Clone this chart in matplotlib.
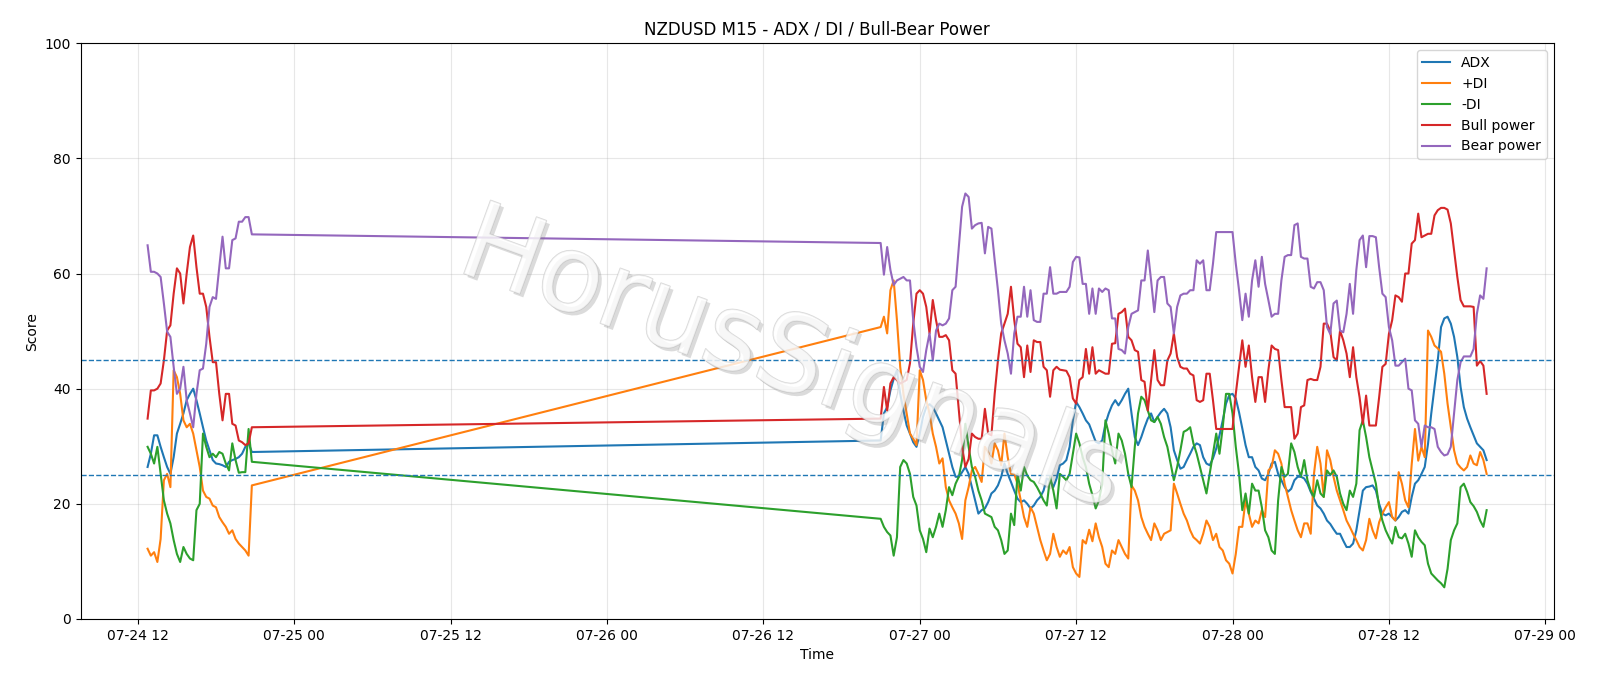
import pandas as pd
import matplotlib
matplotlib.use("Agg")
import matplotlib.pyplot as plt
import matplotlib.dates as mdates
import matplotlib.patheffects as pe

# friday session (07-24 12:45 -> 20:45, M15)
adx_fri = [26.4, 28.7, 31.9, 31.9, 29.9, 28.1, 26.4, 25.2, 28.1, 32.2,
           33.9, 35.7, 38.0, 39.1, 40.0, 38.0, 35.7, 33.3, 31.0, 29.3,
           27.6, 27.0, 26.9, 26.7, 26.4, 27.3, 27.6, 27.8, 28.1, 28.7,
           29.9, 30.5, 29.0]
pdi_fri = [12.2, 11.0, 11.6, 9.9, 13.9, 24.1, 25.2, 22.9, 43.2, 42.0,
           39.1, 34.5, 33.3, 33.9, 32.2, 29.3, 26.4, 22.3, 21.2, 20.9,
           19.7, 19.4, 17.7, 16.8, 16.0, 14.8, 15.4, 13.9, 13.1, 12.5,
           11.9, 11.0, 23.2]
mdi_fri = [29.9, 28.7, 27.0, 29.9, 25.2, 20.6, 18.3, 16.6, 13.7, 11.3,
           9.9, 12.5, 11.3, 10.5, 10.2, 18.9, 20.0, 32.2, 29.9, 28.1,
           28.7, 28.1, 29.0, 28.7, 27.0, 25.8, 30.5, 27.6, 25.4, 25.5,
           25.5, 33.0, 27.3]
bull_fri = [34.8, 39.7, 39.7, 40.0, 40.9, 44.9, 50.1, 51.0, 56.5, 60.9,
            60.0, 54.8, 60.0, 64.6, 66.6, 61.1, 56.5, 56.5, 54.2, 49.0,
            44.6, 44.6, 39.1, 34.5, 39.1, 39.1, 33.9, 33.6, 31.0, 30.7,
            30.2, 30.5, 33.3]
bear_fri = [64.9, 60.3, 60.3, 60.0, 59.4, 54.8, 49.9, 49.0, 43.8, 39.1,
            40.0, 43.8, 38.0, 35.7, 33.3, 39.1, 43.2, 43.5, 47.8, 54.2,
            55.9, 55.6, 61.1, 66.4, 60.9, 60.9, 65.8, 66.1, 69.0, 69.0,
            69.8, 69.8, 66.8]

# after the weekend (07-26 21:00 -> 07-28 19:30, M15)
adx_week = [31.0, 35.7, 36.8, 39.7, 41.7, 43.2, 39.1, 36.2, 33.6, 32.2,
            30.7, 29.9, 32.2, 35.1, 36.8, 37.3, 36.8, 35.7, 34.5, 33.3,
            31.0, 28.7, 26.4, 24.7, 24.7, 25.5, 26.4, 25.2, 22.9, 20.6,
            18.3, 18.9, 19.2, 20.3, 21.8, 22.3, 23.2, 24.7, 27.0, 25.2,
            23.8, 22.3, 20.9, 20.3, 20.6, 20.0, 19.2, 19.7, 20.6, 21.2,
            22.3, 24.4, 24.1, 22.9, 24.4, 26.7, 27.0, 27.6, 29.9, 34.5,
            37.7, 36.8, 35.7, 34.5, 33.8, 32.3, 30.8, 30.5, 31.0, 33.9,
            35.7, 37.1, 38.0, 37.1, 38.0, 39.1, 40.0, 35.7, 31.6, 30.2,
            31.6, 33.3, 34.8, 35.7, 34.2, 35.1, 35.9, 36.5, 35.7, 33.3,
            29.3, 27.6, 26.1, 26.4, 27.6, 28.7, 29.9, 30.5, 30.2, 28.1,
            27.0, 26.7, 27.9, 29.6, 31.9, 34.5, 37.4, 38.9, 39.1, 38.3,
            35.9, 33.1, 30.2, 28.1, 28.1, 26.4, 25.8, 24.4, 24.1, 25.2,
            27.0, 27.3, 25.2, 24.1, 22.9, 22.1, 22.6, 24.1, 24.7, 24.7,
            24.4, 23.5, 22.1, 20.9, 19.7, 19.2, 18.3, 17.1, 16.5, 15.6,
            14.8, 14.8, 13.6, 12.5, 12.5, 13.1, 15.4, 18.9, 22.3, 22.9,
            23.0, 23.2, 22.3, 20.0, 18.3, 18.0, 18.3, 17.7, 17.1, 17.7,
            18.6, 18.9, 18.3, 21.2, 23.5, 24.1, 25.2, 26.4, 30.4, 35.7,
            40.3, 44.9, 50.7, 52.2, 52.5, 51.3, 49.0, 45.5, 40.3, 36.8,
            34.8, 33.3, 31.9, 30.5, 29.9, 29.3, 27.6]
pdi_week = [50.7, 52.5, 49.6, 57.1, 58.8, 51.9, 43.8, 39.1, 35.7, 32.2,
            31.3, 30.2, 43.2, 41.5, 38.0, 35.7, 32.2, 29.9, 27.0, 27.9,
            22.9, 20.6, 19.4, 18.3, 16.6, 13.9, 20.6, 22.9, 25.8, 26.4,
            25.2, 23.8, 29.9, 29.0, 27.0, 30.5, 29.3, 26.7, 32.2, 28.1,
            25.2, 25.2, 23.5, 20.6, 17.7, 16.0, 19.4, 18.3, 16.0, 13.7,
            11.9, 10.2, 11.3, 14.8, 12.5, 10.8, 11.9, 11.3, 12.5, 9.0,
            7.9, 7.3, 13.7, 13.1, 15.5, 13.5, 16.6, 14.2, 12.5, 9.6,
            9.0, 11.9, 11.3, 13.7, 12.5, 11.3, 10.5, 23.2, 22.3, 20.6,
            17.7, 16.0, 14.8, 13.7, 16.6, 15.4, 13.7, 14.8, 15.1, 15.4,
            23.5, 21.8, 20.0, 18.3, 17.1, 15.4, 14.2, 13.7, 13.1, 14.8,
            17.1, 16.0, 13.7, 14.8, 12.5, 11.9, 10.2, 9.6, 7.9, 11.3,
            16.0, 16.0, 20.6, 18.3, 16.0, 17.1, 16.6, 18.9, 17.7, 25.8,
            26.4, 29.3, 28.7, 27.0, 23.5, 21.2, 18.9, 17.1, 15.4, 14.2,
            16.6, 16.6, 14.8, 25.2, 29.9, 27.0, 21.2, 29.3, 27.6, 24.7,
            22.3, 20.6, 18.9, 17.1, 16.0, 14.8, 13.7, 12.5, 11.9, 13.7,
            17.4, 15.4, 14.0, 16.8, 18.3, 19.4, 20.3, 17.7, 17.1, 25.5,
            23.5, 20.6, 19.4, 26.9, 33.0, 27.5, 29.9, 28.1, 50.1, 49.0,
            47.5, 47.0, 46.4, 42.6, 37.4, 33.3, 29.3, 27.0, 26.3, 25.8,
            26.4, 28.4, 27.0, 26.7, 29.0, 27.6, 25.2]
mdi_week = [17.4, 16.0, 15.1, 14.5, 11.0, 14.2, 26.4, 27.6, 27.0, 25.2,
            21.2, 19.7, 15.4, 13.9, 11.6, 15.7, 14.2, 16.0, 18.3, 16.0,
            18.9, 22.9, 21.5, 23.5, 24.7, 27.6, 33.9, 29.9, 26.4, 24.7,
            22.3, 20.6, 18.3, 18.0, 17.7, 16.0, 15.4, 13.7, 11.3, 11.9,
            18.3, 16.3, 25.2, 22.3, 26.4, 24.9, 24.1, 23.8, 22.9, 21.8,
            20.6, 19.7, 24.7, 22.3, 19.2, 25.2, 24.7, 24.1, 25.2, 28.7,
            32.2, 30.5, 28.1, 26.4, 23.5, 21.5, 19.2, 20.6, 23.5, 34.5,
            32.2, 29.3, 27.0, 32.2, 31.0, 28.7, 25.2, 22.9, 29.9, 35.7,
            38.6, 38.0, 36.2, 34.5, 34.2, 35.1, 33.9, 31.6, 29.9, 27.0,
            24.1, 26.4, 29.3, 32.5, 32.8, 33.3, 30.5, 28.7, 26.4, 24.1,
            21.8, 25.2, 28.7, 32.2, 28.7, 33.3, 39.1, 39.1, 35.7, 29.9,
            25.2, 18.9, 21.8, 18.3, 23.5, 22.3, 22.3, 19.4, 15.4, 14.2,
            11.9, 11.3, 20.6, 26.4, 24.7, 25.2, 30.5, 29.0, 26.4, 24.7,
            27.6, 24.1, 22.3, 21.2, 24.1, 21.8, 21.2, 25.8, 25.0, 25.8,
            24.7, 21.8, 20.0, 18.9, 22.3, 21.2, 23.5, 32.8, 34.5, 31.6,
            28.1, 25.8, 23.5, 19.4, 17.1, 15.4, 14.2, 13.1, 16.0, 14.2,
            14.0, 14.8, 13.1, 10.8, 15.4, 14.2, 13.4, 12.8, 9.6, 7.9,
            7.3, 6.7, 6.2, 5.5, 8.7, 13.7, 15.4, 16.6, 22.9, 23.5,
            22.1, 20.3, 19.6, 18.6, 17.1, 16.0, 18.9]
bull_week = [34.8, 40.3, 36.2, 40.9, 42.0, 41.5, 40.9, 41.2, 41.5, 44.4,
             51.3, 56.5, 57.1, 56.5, 54.2, 49.6, 55.4, 51.9, 49.0, 49.0,
             49.3, 48.4, 43.2, 42.6, 36.2, 29.9, 26.4, 27.8, 32.2, 31.6,
             31.3, 31.3, 36.5, 32.2, 31.9, 39.1, 44.9, 49.6, 51.3, 53.0,
             57.7, 51.9, 47.8, 47.2, 42.0, 47.5, 42.9, 48.4, 48.1, 48.1,
             43.8, 43.2, 38.6, 43.2, 43.8, 43.3, 43.2, 43.1, 42.0, 38.3,
             37.4, 41.5, 42.0, 46.9, 42.6, 47.2, 42.6, 43.2, 42.9, 42.6,
             42.6, 47.8, 47.9, 53.0, 53.3, 53.9, 49.0, 48.4, 46.7, 46.4,
             41.5, 41.2, 36.2, 41.5, 46.7, 41.5, 40.6, 40.6, 44.9, 46.1,
             49.6, 45.5, 43.8, 43.5, 43.5, 42.6, 42.3, 38.0, 37.7, 38.0,
             42.6, 42.6, 38.0, 33.0, 33.0, 33.0, 33.0, 33.0, 33.0, 39.1,
             43.8, 48.4, 43.8, 47.5, 42.0, 37.7, 42.0, 42.0, 37.7, 43.2,
             47.5, 46.9, 46.7, 41.5, 36.8, 36.8, 36.8, 31.3, 32.2, 36.8,
             37.1, 41.5, 41.7, 41.5, 41.5, 43.8, 51.3, 51.3, 50.0, 45.5,
             44.9, 50.1, 48.4, 46.1, 42.0, 47.2, 42.0, 38.5, 33.9, 38.8,
             33.6, 33.6, 33.6, 38.5, 43.8, 44.3, 49.5, 51.9, 56.2, 55.9,
             55.1, 60.0, 60.0, 65.2, 65.8, 70.4, 66.3, 66.6, 66.9, 66.9,
             70.1, 71.0, 71.4, 71.4, 71.1, 68.7, 64.0, 59.4, 55.4, 54.3,
             54.3, 54.3, 54.2, 44.0, 44.8, 44.0, 39.1]
bear_week = [65.3, 59.8, 64.6, 60.6, 58.0, 58.8, 59.1, 59.4, 58.8, 58.8,
             51.9, 47.2, 43.8, 42.9, 46.7, 49.6, 44.9, 50.1, 51.3, 51.0,
             51.3, 52.2, 57.1, 57.7, 64.6, 71.6, 73.9, 73.3, 67.8, 68.4,
             68.7, 68.8, 63.5, 68.1, 67.8, 62.3, 57.1, 51.3, 48.4, 46.1,
             42.6, 49.6, 52.5, 52.5, 57.7, 52.5, 57.1, 51.9, 51.6, 51.6,
             56.5, 56.5, 61.1, 56.5, 56.5, 56.8, 56.8, 56.8, 57.7, 62.0,
             62.9, 62.8, 58.2, 58.2, 53.0, 57.4, 53.0, 57.4, 56.8, 57.4,
             57.1, 52.2, 52.2, 46.9, 46.7, 46.1, 50.7, 53.0, 53.3, 53.6,
             58.8, 58.8, 64.0, 58.8, 53.3, 58.8, 59.4, 59.4, 54.8, 54.2,
             49.6, 54.2, 56.2, 56.5, 56.5, 57.1, 57.1, 62.3, 61.7, 62.3,
             57.1, 57.1, 61.7, 67.2, 67.2, 67.2, 67.2, 67.2, 67.2, 61.7,
             57.1, 51.9, 56.5, 52.5, 58.8, 62.3, 57.7, 62.9, 58.2, 55.4,
             52.5, 53.0, 53.0, 58.8, 62.9, 63.2, 63.2, 68.4, 68.7, 62.9,
             62.6, 62.6, 57.7, 57.4, 58.5, 58.5, 57.1, 50.7, 49.5, 54.8,
             55.3, 50.1, 49.8, 53.0, 58.2, 53.0, 60.6, 65.8, 66.6, 61.1,
             66.5, 66.5, 66.3, 61.1, 56.5, 55.9, 50.7, 48.4, 44.0, 44.0,
             44.6, 45.2, 40.0, 39.7, 34.5, 33.9, 29.9, 33.6, 33.3, 33.3,
             33.0, 29.9, 29.0, 28.4, 28.6, 29.9, 35.7, 41.5, 44.6, 45.6,
             45.6, 45.6, 46.9, 53.0, 56.2, 55.6, 60.9]

levels = [25, 45]


def main():
    t_fri = pd.date_range("2026-07-24 12:45", periods=len(adx_fri), freq="15min")
    t_week = pd.date_range("2026-07-26 21:00", periods=len(adx_week), freq="15min")
    df = pd.DataFrame({
        "ADX": adx_fri + adx_week,
        "+DI": pdi_fri + pdi_week,
        "-DI": mdi_fri + mdi_week,
        "Bull power": bull_fri + bull_week,
        "Bear power": bear_fri + bear_week,
    }, index=t_fri.append(t_week))

    fig, ax = plt.subplots(figsize=(16, 6.86), dpi=100)
    fig.subplots_adjust(left=0.0504, right=0.971, bottom=0.0977, top=0.937)

    for col in df.columns:
        ax.plot(df.index, df[col], label=col)
    for lv in levels:
        ax.axhline(lv, linestyle="--", linewidth=1, color="C0")

    ax.set_ylim(0, 100)
    ax.grid(True, alpha=0.3)
    ax.xaxis.set_major_locator(mdates.HourLocator(byhour=[0, 12]))
    ax.xaxis.set_major_formatter(mdates.DateFormatter("%m-%d %H"))
    ax.set_title("NZDUSD M15 - ADX / DI / Bull-Bear Power")
    ax.set_xlabel("Time")
    ax.set_ylabel("Score")
    ax.legend(loc="upper right")

    # watermark: hollow white letters with a light grey shadow
    ax.text(0.483, 0.447, "HorusSignals", transform=ax.transAxes,
            fontsize=77, color="white", alpha=0.55, rotation=-20,
            ha="center", va="center", zorder=10,
            path_effects=[pe.SimplePatchShadow(offset=(2.5, -2.5), shadow_rgbFace="gray", alpha=0.28),
                          pe.Stroke(linewidth=1.0, foreground=(0.72, 0.72, 0.72, 0.5)),
                          pe.Normal()])

    plt.savefig("out.png")
    plt.close(fig)


if __name__ == "__main__":
    main()
